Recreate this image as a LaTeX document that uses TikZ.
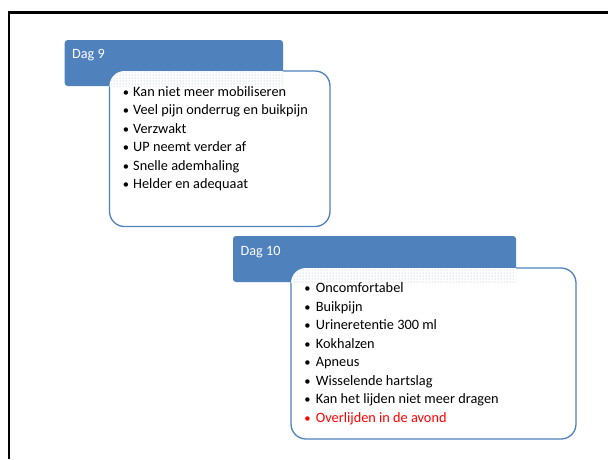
\documentclass[tikz,border=0pt]{standalone}
\usepackage{fontspec}
\setmainfont{Carlito}
\usetikzlibrary{patterns}
\definecolor{ofblue}{RGB}{79,129,189}
\definecolor{ofred}{RGB}{255,0,0}
\begin{document}
\begin{tikzpicture}[x=1pt,y=-1pt,
  header/.style={fill=ofblue,rounded corners=3pt},
  listbox/.style={fill=white,draw=ofblue,line width=1.3pt,rounded corners=15pt},
  htext/.style={anchor=base west,inner sep=0pt,text=white,font=\fontsize{14.2}{16}\selectfont},
  itext/.style={anchor=base west,inner sep=0pt,font=\fontsize{14.3}{16}\selectfont},
  btext/.style={anchor=base,inner sep=0pt,font=\fontsize{12.5}{16}\selectfont}]
\useasboundingbox (0,0) rectangle (608,459);
% frame
\draw[line width=2.2pt] (9,459) -- (9,12.5) -- (608,12.5);
% Dag 9
\path[header] (64.7,40) rectangle (283,86);
\node[htext] (d9) at (72,58.5) {Dag 9};
\path[listbox] (109.5,71) rectangle (330,226.5);
\begin{scope}
  \clip (64.7,40) rectangle (283,86);
  \fill[white,rounded corners=15pt] (109.5,71) rectangle (330,226.5);
  \fill[pattern=dots,pattern color=ofblue!60,rounded corners=15pt] (109.5,71) rectangle (330,226.5);
\end{scope}
\foreach \t [count=\i] in {Kan niet meer mobiliseren,Veel pijn onderrug en buikpijn,Verzwakt,UP neemt verder af,Snelle ademhaling,Helder en adequaat}{
  \node[btext] (b9-\i) at (126,96+18.5*\i-18.5) {•};
  \node[itext] (t9-\i) at (133,96+18.5*\i-18.5) {\t};
}
% Dag 10
\path[header] (233,236) rectangle (516,282);
\node[htext] (d10) at (240.5,255) {Dag 10};
\path[listbox] (291,268) rectangle (576,439);
\begin{scope}
  \clip (233,236) rectangle (516,282);
  \fill[white,rounded corners=15pt] (291,268) rectangle (576,439);
  \fill[pattern=dots,pattern color=ofblue!60,rounded corners=15pt] (291,268) rectangle (576,439);
\end{scope}
\foreach \t [count=\i] in {Oncomfortabel,Buikpijn,Urineretentie 300 ml,Kokhalzen,Apneus,Wisselende hartslag,Kan het lijden niet meer dragen}{
  \node[btext] (b10-\i) at (307.5,292.5+18.5*\i-18.5) {•};
  \node[itext] (t10-\i) at (315.7,292.5+18.5*\i-18.5) {\t};
}
\node[btext,text=ofred] (b10-8) at (307.5,422) {•};
\node[itext,text=ofred] (t10-8) at (315.7,422) {Overlijden in de avond};
\end{tikzpicture}
\end{document}
